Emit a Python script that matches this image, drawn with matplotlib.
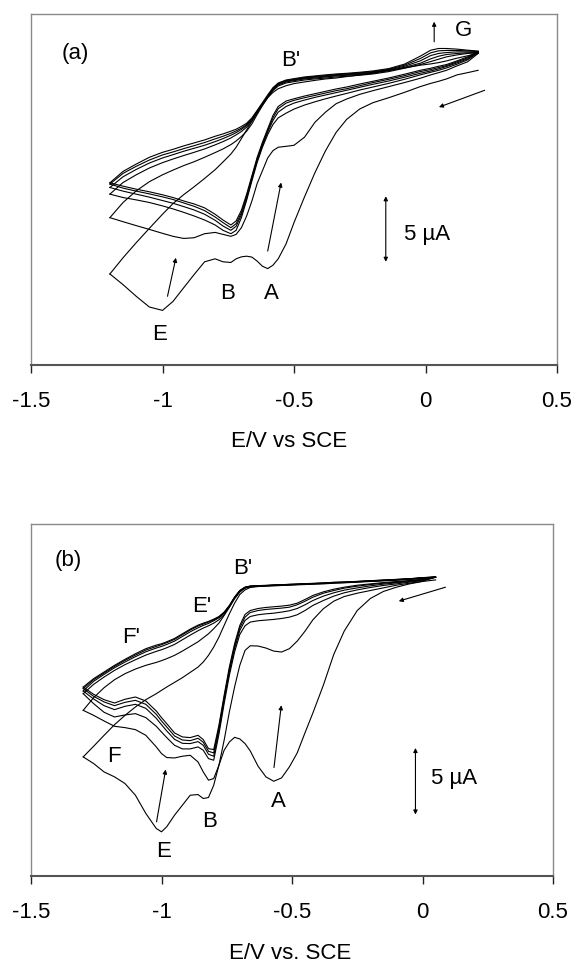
import matplotlib
matplotlib.use("Agg")
import matplotlib.pyplot as plt

plt.rcParams['font.family'] = ['Liberation Sans', 'DejaVu Sans']

# ---------------- panel (a) data: E (V vs SCE), I (uA, arbitrary offset) ----------------
E_a = [-1.20, -1.15, -1.10, -1.05, -1.00, -0.96, -0.92, -0.88, -0.84, -0.80, -0.77, -0.74,
       -0.72, -0.70, -0.68, -0.66, -0.64, -0.62, -0.60, -0.58, -0.56, -0.53, -0.50, -0.46,
       -0.42, -0.38, -0.34, -0.30, -0.25, -0.20, -0.14, -0.08, -0.02, 0.02, 0.05, 0.08,
       0.12, 0.16, 0.20]

a_c1 = [-3.03, -3.85, -4.74, -5.56, -5.82, -5.13, -4.10, -3.08, -2.10, -1.87, -2.10, -2.15,
        -1.87, -1.72, -1.67, -1.74, -2.05, -2.44, -2.62, -2.36, -1.87, -0.72, 0.90, 2.87,
        4.74, 6.41, 7.80, 8.80, 9.60, 10.08, 10.46, 10.87, 11.31, 11.56, 11.72, 11.90,
        12.21, 12.38, 12.56]
a_a1 = [-3.03, -1.79, -0.64, 0.46, 1.54, 2.36, 3.03, 3.64, 4.28, 4.95, 5.54, 6.15,
        6.67, 7.33, 8.00, 8.67, 9.33, 9.95, 10.46, 10.87, 11.15, 11.38, 11.54, 11.67,
        11.79, 11.90, 11.97, 12.08, 12.21, 12.33, 12.54, 12.74, 12.95, 13.05, 13.15, 13.28,
        13.49, 13.67, 13.85]
a_c2 = [1.28, 0.97, 0.67, 0.38, 0.08, -0.15, -0.31, -0.26, 0.05, 0.15, 0.00, -0.15,
        0.00, 0.51, 1.41, 2.56, 3.90, 4.87, 5.85, 6.41, 6.67, 6.74, 6.82, 7.44,
        8.59, 9.36, 10.00, 10.36, 10.72, 11.00, 11.31, 11.62, 11.95, 12.21, 12.38, 12.56,
        12.90, 13.21, 13.85]
a_a2 = [1.28, 2.44, 3.33, 4.03, 4.56, 4.92, 5.26, 5.56, 5.90, 6.26, 6.54, 6.87,
        7.15, 7.49, 7.90, 8.46, 9.18, 9.85, 10.46, 11.00, 11.36, 11.59, 11.69, 11.82,
        11.90, 11.97, 12.05, 12.10, 12.18, 12.28, 12.46, 12.72, 13.00, 13.23, 13.41, 13.59,
        13.74, 13.85, 13.90]
a_c3 = [3.08, 2.82, 2.64, 2.44, 2.18, 1.95, 1.69, 1.41, 1.10, 0.72, 0.31, 0.05,
        0.31, 1.28, 2.62, 4.10, 5.51, 6.67, 7.64, 8.41, 8.92, 9.28, 9.59, 9.90,
        10.15, 10.38, 10.59, 10.79, 11.05, 11.28, 11.56, 11.87, 12.21, 12.41, 12.56, 12.74,
        13.03, 13.36, 13.90]
a_a3 = [3.08, 3.97, 4.56, 5.08, 5.49, 5.77, 6.03, 6.28, 6.54, 6.85, 7.10, 7.38,
        7.62, 7.87, 8.21, 8.67, 9.31, 9.92, 10.51, 11.08, 11.44, 11.67, 11.77, 11.90,
        11.97, 12.05, 12.13, 12.18, 12.26, 12.36, 12.54, 12.79, 13.10, 13.44, 13.64, 13.77,
        13.85, 13.90, 13.92]
a_c4 = [3.59, 3.31, 3.08, 2.85, 2.59, 2.38, 2.13, 1.87, 1.54, 1.08, 0.64, 0.31,
        0.62, 1.49, 2.77, 4.23, 5.64, 6.79, 7.82, 8.72, 9.36, 9.79, 10.05, 10.28,
        10.49, 10.67, 10.85, 11.03, 11.26, 11.49, 11.74, 12.03, 12.33, 12.51, 12.67, 12.85,
        13.13, 13.44, 13.92]
a_a4 = [3.59, 4.41, 4.97, 5.46, 5.85, 6.10, 6.36, 6.59, 6.82, 7.10, 7.33, 7.59,
        7.79, 8.03, 8.33, 8.77, 9.38, 9.97, 10.56, 11.13, 11.49, 11.72, 11.82, 11.95,
        12.03, 12.10, 12.18, 12.23, 12.31, 12.41, 12.59, 12.87, 13.28, 13.69, 13.85, 13.92,
        13.97, 13.97, 13.97]
a_c5 = [3.85, 3.54, 3.31, 3.10, 2.87, 2.67, 2.41, 2.15, 1.82, 1.33, 0.90, 0.51,
        0.82, 1.67, 2.95, 4.36, 5.77, 6.92, 7.95, 8.92, 9.62, 10.05, 10.26, 10.46,
        10.64, 10.82, 11.00, 11.15, 11.38, 11.62, 11.87, 12.15, 12.46, 12.62, 12.77, 12.92,
        13.21, 13.51, 13.97]
a_a5 = [3.85, 4.67, 5.21, 5.69, 6.08, 6.31, 6.56, 6.79, 7.03, 7.31, 7.51, 7.74,
        7.92, 8.13, 8.41, 8.85, 9.44, 10.03, 10.62, 11.18, 11.54, 11.77, 11.87, 12.00,
        12.08, 12.15, 12.23, 12.28, 12.36, 12.46, 12.64, 12.95, 13.46, 13.90, 14.05, 14.08,
        14.08, 14.05, 14.00]
a_c6 = [3.95, 3.69, 3.46, 3.26, 3.03, 2.82, 2.56, 2.33, 2.03, 1.54, 1.10, 0.72,
        1.03, 1.85, 3.08, 4.49, 5.90, 7.05, 8.08, 9.10, 9.79, 10.21, 10.38, 10.59,
        10.77, 10.95, 11.13, 11.28, 11.51, 11.72, 11.97, 12.26, 12.56, 12.72, 12.87, 13.00,
        13.28, 13.59, 14.00]
a_a6 = [3.95, 4.82, 5.38, 5.90, 6.28, 6.51, 6.77, 7.00, 7.23, 7.51, 7.69, 7.90,
        8.05, 8.26, 8.51, 8.92, 9.49, 10.08, 10.67, 11.23, 11.59, 11.82, 11.92, 12.05,
        12.13, 12.21, 12.28, 12.33, 12.41, 12.51, 12.69, 13.03, 13.64, 14.10, 14.23, 14.23,
        14.18, 14.10, 14.03]

# ---------------- panel (b) data ----------------
E_b = [-1.30, -1.26, -1.22, -1.18, -1.14, -1.10, -1.06, -1.02, -1.00, -0.98, -0.95, -0.92,
       -0.89, -0.86, -0.84, -0.82, -0.80, -0.78, -0.76, -0.74, -0.72, -0.70, -0.68, -0.66,
       -0.63, -0.60, -0.57, -0.54, -0.51, -0.48, -0.45, -0.42, -0.38, -0.34, -0.30, -0.25,
       -0.20, -0.15, -0.10, -0.05, 0.00, 0.05]

b_c1 = [-3.25, -3.75, -4.38, -4.75, -5.25, -6.13, -7.50, -8.63, -8.88, -8.50, -7.63, -6.88,
        -6.13, -6.08, -6.38, -6.30, -5.38, -3.88, -2.75, -2.13, -1.78, -1.90, -2.25, -2.80,
        -3.95, -4.75, -5.08, -4.83, -4.00, -2.95, -1.43, 0.05, 2.13, 4.45, 6.20, 7.75,
        8.65, 9.18, 9.50, 9.75, 9.93, 10.05]
b_a1 = [-3.25, -2.45, -1.63, -0.83, -0.13, 0.50, 1.05, 1.50, 1.75, 2.00, 2.35, 2.70,
        3.10, 3.50, 3.88, 4.38, 5.00, 5.75, 6.63, 7.50, 8.30, 8.95, 9.30, 9.48,
        9.55, 9.58, 9.60, 9.63, 9.65, 9.68, 9.70, 9.73, 9.75, 9.80, 9.83, 9.88,
        9.93, 9.98, 10.03, 10.10, 10.18, 10.25]
b_c2 = [0.25, -0.13, -0.55, -0.95, -1.05, -1.20, -1.63, -2.50, -3.00, -3.30, -3.33, -3.20,
        -3.13, -3.63, -4.38, -5.00, -4.88, -3.88, -2.00, 0.13, 2.00, 3.63, 4.75, 5.10,
        5.08, 4.93, 4.70, 4.63, 4.88, 5.45, 6.20, 7.05, 7.88, 8.45, 8.80, 9.05,
        9.25, 9.45, 9.65, 9.80, 9.95, 10.25]
b_a2 = [0.25, 1.20, 1.95, 2.55, 3.00, 3.35, 3.63, 3.85, 3.98, 4.13, 4.38, 4.70,
        5.05, 5.40, 5.70, 6.00, 6.38, 6.80, 7.38, 8.00, 8.63, 9.13, 9.43, 9.53,
        9.58, 9.60, 9.63, 9.65, 9.68, 9.70, 9.73, 9.75, 9.78, 9.83, 9.85, 9.90,
        9.95, 10.00, 10.05, 10.10, 10.18, 10.25]
b_c3 = [1.50, 0.75, 0.10, -0.25, -0.10, 0.00, -0.30, -0.95, -1.38, -1.80, -2.38, -2.65,
        -2.65, -2.50, -2.75, -3.38, -3.50, -1.55, 0.75, 2.88, 4.63, 5.95, 6.60, 6.88,
        6.98, 7.03, 7.08, 7.15, 7.25, 7.43, 7.75, 8.13, 8.50, 8.83, 9.08, 9.30,
        9.48, 9.63, 9.75, 9.88, 10.00, 10.25]
b_a3 = [1.50, 2.20, 2.75, 3.25, 3.68, 4.05, 4.40, 4.68, 4.80, 4.95, 5.20, 5.55,
        5.90, 6.23, 6.43, 6.60, 6.80, 7.05, 7.45, 8.00, 8.68, 9.18, 9.45, 9.55,
        9.59, 9.61, 9.64, 9.66, 9.69, 9.71, 9.74, 9.76, 9.79, 9.84, 9.86, 9.91,
        9.96, 10.01, 10.06, 10.11, 10.19, 10.25]
b_c4 = [1.70, 1.10, 0.60, 0.30, 0.55, 0.70, 0.40, -0.35, -0.83, -1.30, -1.93, -2.23,
        -2.25, -2.10, -2.38, -3.05, -3.20, -1.30, 1.00, 3.13, 4.88, 6.25, 7.00, 7.30,
        7.43, 7.50, 7.55, 7.63, 7.73, 7.90, 8.18, 8.50, 8.83, 9.08, 9.28, 9.45,
        9.60, 9.73, 9.83, 9.93, 10.05, 10.25]
b_a4 = [1.70, 2.43, 2.95, 3.45, 3.88, 4.28, 4.65, 4.93, 5.05, 5.20, 5.45, 5.80,
        6.15, 6.45, 6.63, 6.78, 6.98, 7.20, 7.55, 8.08, 8.73, 9.23, 9.48, 9.58,
        9.60, 9.62, 9.65, 9.67, 9.70, 9.72, 9.75, 9.77, 9.80, 9.85, 9.87, 9.92,
        9.97, 10.02, 10.07, 10.12, 10.20, 10.26]
b_c5 = [1.88, 1.30, 0.88, 0.60, 0.85, 1.00, 0.70, -0.05, -0.55, -1.00, -1.68, -1.98,
        -2.03, -1.85, -2.15, -2.83, -2.95, -1.05, 1.20, 3.33, 5.08, 6.45, 7.25, 7.60,
        7.75, 7.83, 7.88, 7.93, 8.00, 8.18, 8.45, 8.75, 9.05, 9.25, 9.43, 9.58,
        9.70, 9.80, 9.88, 9.98, 10.08, 10.26]
b_a5 = [1.88, 2.55, 3.05, 3.55, 4.00, 4.40, 4.78, 5.05, 5.18, 5.33, 5.58, 5.93,
        6.28, 6.58, 6.73, 6.88, 7.05, 7.25, 7.60, 8.10, 8.75, 9.25, 9.50, 9.58,
        9.61, 9.63, 9.66, 9.68, 9.71, 9.73, 9.76, 9.78, 9.81, 9.86, 9.88, 9.93,
        9.98, 10.03, 10.08, 10.13, 10.21, 10.27]
b_c6 = [2.00, 1.45, 1.05, 0.80, 1.08, 1.25, 0.95, 0.20, -0.30, -0.75, -1.45, -1.75,
        -1.80, -1.63, -1.95, -2.63, -2.70, -0.88, 1.38, 3.50, 5.25, 6.63, 7.45, 7.75,
        7.90, 7.98, 8.03, 8.08, 8.15, 8.30, 8.58, 8.88, 9.15, 9.35, 9.50, 9.65,
        9.75, 9.85, 9.93, 10.00, 10.10, 10.27]
b_a6 = [2.00, 2.63, 3.13, 3.63, 4.08, 4.50, 4.88, 5.15, 5.25, 5.40, 5.65, 6.00,
        6.35, 6.65, 6.80, 6.93, 7.10, 7.30, 7.63, 8.13, 8.75, 9.25, 9.50, 9.58,
        9.62, 9.64, 9.67, 9.69, 9.72, 9.74, 9.77, 9.79, 9.82, 9.87, 9.89, 9.94,
        9.99, 10.04, 10.09, 10.14, 10.22, 10.28]

x_ticks = [-1.5, -1.0, -0.5, 0.0, 0.5]
x_ticklabels = ["-1.5", "-1", "-0.5", "0", "0.5"]
xlabel_a = "E/V vs SCE"
xlabel_b = "E/V vs. SCE"

FS = 16
LW = 0.8

fig = plt.figure(figsize=(5.76, 9.63), dpi=100)
ax_a = fig.add_axes([31/576, 1-365/963, (557-31)/576, (365-14)/963])
ax_b = fig.add_axes([31/576, 1-876/963, (553-31)/576, (876-524)/963])


def style(ax, xlabel):
    ax.set_xlim(-1.5, 0.5)
    ax.set_xticks(x_ticks)
    ax.set_xticklabels(x_ticklabels, fontsize=FS)
    ax.set_yticks([])
    for s in ('left', 'top', 'right'):
        ax.spines[s].set_color('#8a8a8a')
        ax.spines[s].set_linewidth(1.0)
    ax.spines['bottom'].set_color('#555555')
    ax.spines['bottom'].set_linewidth(1.5)
    ax.tick_params(axis='x', direction='out', length=6, width=1.0, color='#222222', pad=13)
    ax.set_xlabel(xlabel, fontsize=FS)
    ax.xaxis.label.set_va('center')


def arrow(ax, x0, y0, x1, y1, both=False):
    ax.annotate('', xy=(x1, y1), xytext=(x0, y0),
                arrowprops=dict(arrowstyle='<|-|>' if both else '-|>', lw=0.8,
                                color='k', mutation_scale=6, shrinkA=0, shrinkB=0))


# panel (a)
for c, a in [(a_c1, a_a1), (a_c2, a_a2), (a_c3, a_a3), (a_c4, a_a4), (a_c5, a_a5), (a_c6, a_a6)]:
    ax_a.plot(E_a, c, color='k', lw=LW)
    ax_a.plot(E_a, a, color='k', lw=LW)
ax_a.set_ylim(-10.0, 16.87)
style(ax_a, xlabel_a)
ax_a.xaxis.set_label_coords(0.49, -76/351)
ax_a.text(-1.333, 13.85, "(a)", fontsize=FS, ha='center', va='center')
ax_a.text(-0.514, 13.33, "B'", fontsize=FS, ha='center', va='center')
ax_a.text(0.144, 15.59, "G", fontsize=FS, ha='center', va='center')
ax_a.text(-0.751, -4.49, "B", fontsize=FS, ha='center', va='center')
ax_a.text(-0.586, -4.56, "A", fontsize=FS, ha='center', va='center')
ax_a.text(-1.013, -7.69, "E", fontsize=FS, ha='center', va='center')
ax_a.text(-0.082, 0.0, "5 \u00b5A", fontsize=FS, ha='left', va='center')
arrow(ax_a, 0.033, 14.74, 0.033, 16.28)
arrow(ax_a, -0.981, -4.74, -0.949, -1.79)
arrow(ax_a, -0.600, -1.28, -0.549, 3.97)
arrow(ax_a, 0.225, 11.03, 0.051, 9.74)
arrow(ax_a, -0.151, -2.10, -0.151, 2.92, both=True)

# panel (b)
for c, a in [(b_c1, b_a1), (b_c2, b_a2), (b_c3, b_a3), (b_c4, b_a4), (b_c5, b_a5), (b_c6, b_a6)]:
    ax_b.plot(E_b, c, color='k', lw=LW)
    ax_b.plot(E_b, a, color='k', lw=LW)
ax_b.set_ylim(-12.2, 14.25)
style(ax_b, xlabel_b)
ax_b.xaxis.set_label_coords(0.496, -77/352)
ax_b.text(-1.357, 11.5, "(b)", fontsize=FS, ha='center', va='center')
ax_b.text(-0.688, 10.88, "B'", fontsize=FS, ha='center', va='center')
ax_b.text(-0.846, 8.05, "E'", fontsize=FS, ha='center', va='center')
ax_b.text(-1.117, 5.75, "F'", fontsize=FS, ha='center', va='center')
ax_b.text(-1.181, -3.25, "F", fontsize=FS, ha='center', va='center')
ax_b.text(-0.991, -10.38, "E", fontsize=FS, ha='center', va='center')
ax_b.text(-0.815, -8.13, "B", fontsize=FS, ha='center', va='center')
ax_b.text(-0.552, -6.63, "A", fontsize=FS, ha='center', va='center')
ax_b.text(0.032, -4.88, "5 \u00b5A", fontsize=FS, ha='left', va='center')
arrow(ax_b, -1.019, -8.13, -0.984, -4.2)
arrow(ax_b, -0.569, -4.05, -0.541, 0.63)
arrow(ax_b, 0.088, 9.5, -0.091, 8.45)
arrow(ax_b, -0.027, -7.58, -0.027, -2.58, both=True)

fig.savefig("out.png", dpi=100)
